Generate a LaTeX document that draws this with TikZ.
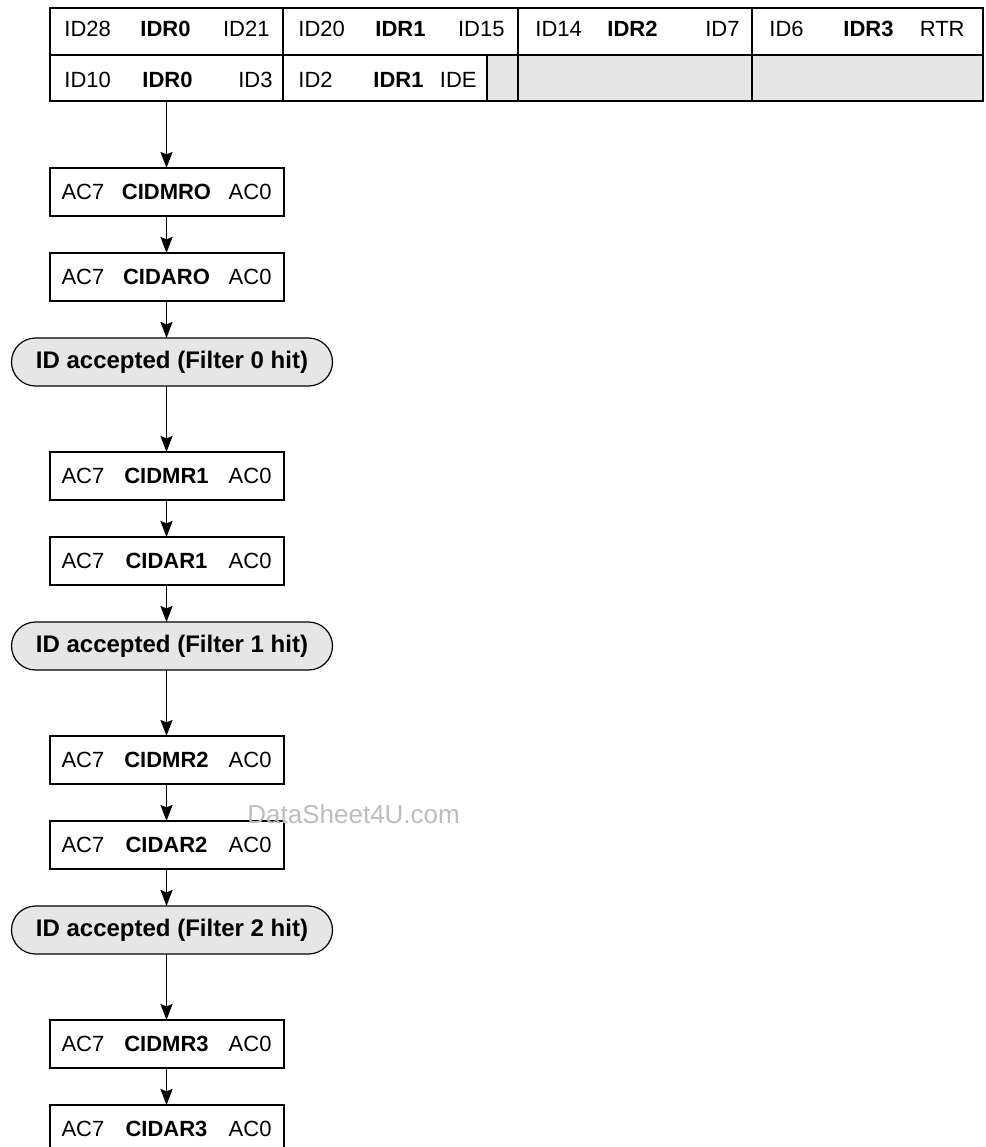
\documentclass[tikz,border=0pt]{standalone}
\usepackage{fontspec}
\setmainfont{Liberation Sans}
\usetikzlibrary{arrows.meta,positioning}
\definecolor{cellgray}{HTML}{E6E6E6}
\definecolor{markgray}{HTML}{BDBDBD}
\tikzset{
  cell/.style={draw, line width=1pt, inner sep=0pt, outer sep=0pt, anchor=north west, minimum height=23.25pt},
  graycell/.style={cell, fill=cellgray},
  lbl/.style={inner sep=0pt, font=\fontsize{11}{13}\selectfont},
  regbox/.style={draw, line width=1pt, inner sep=0pt, outer sep=0pt, minimum width=117pt, minimum height=24pt, text width=105pt, font=\fontsize{11}{13}\selectfont},
  hitbox/.style={draw, line width=0.6pt, fill=cellgray, rounded corners=12pt, inner sep=0pt, outer sep=0pt, minimum width=160.5pt, minimum height=24pt, font=\fontsize{12}{14}\selectfont\bfseries},
  link/.style={-{Stealth[length=8pt,width=6pt,inset=1.2pt]}, line width=0.9pt},
  markstyle/.style={inner sep=0pt, text=markgray, font=\fontsize{13}{15}\selectfont}
}
\begin{document}
\begin{tikzpicture}[x=0.5pt, y=-0.5pt, node distance=18.5pt]
  \useasboundingbox (0,0) rectangle (986,1147);
  % identifier register table
  \node[cell, minimum width=116.5pt] (r1c1) at (50,8) {};
  \node[cell, minimum width=117.5pt] (r1c2) at (283,8) {};
  \node[cell, minimum width=117pt] (r1c3) at (518,8) {};
  \node[cell, minimum width=115.5pt] (r1c4) at (752,8) {};
  \node[cell, minimum width=116.5pt] (r2c1) at (50,54.5) {};
  \node[cell, minimum width=102pt] (r2c2) at (283,54.5) {};
  \node[graycell, minimum width=15.5pt] (r2c3) at (487,54.5) {};
  \node[graycell, minimum width=117pt] (r2c4) at (518,54.5) {};
  \node[graycell, minimum width=115.5pt] (r2c5) at (752,54.5) {};
  \foreach \x/\y/\a/\t [count=\i] in {
      64/36/base west/ID28, 140/36/base west/\textbf{IDR0}, 270/36/base east/ID21,
      298/36/base west/ID20, 375/36/base west/\textbf{IDR1}, 505/36/base east/ID15,
      535/36/base west/ID14, 607/36/base west/\textbf{IDR2}, 740/36/base east/ID7,
      769/36/base west/ID6, 843/36/base west/\textbf{IDR3}, 965/36/base east/RTR,
      64/87/base west/ID10, 142/87/base west/\textbf{IDR0}, 273/87/base east/ID3,
      298/87/base west/ID2, 373/87/base west/\textbf{IDR1}, 477/87/base east/IDE}
    \node[lbl, anchor=\a] (lbl\i) at (\x,\y) {\t};
  % filter chain
  \node[regbox, below=33.5pt of r2c1] (mr0) {AC7\hfill\textbf{CIDMRO}\hfill AC0};
  \node[regbox, below=of mr0] (ar0) {AC7\hfill\textbf{CIDARO}\hfill AC0};
  \node[hitbox, below=of ar0, xshift=2.75pt] (hit0) {ID accepted (Filter 0 hit)};
  \node[regbox, below=33pt of hit0, xshift=-2.75pt] (mr1) {AC7\hfill\textbf{CIDMR1}\hfill AC0};
  \node[regbox, below=of mr1] (ar1) {AC7\hfill\textbf{CIDAR1}\hfill AC0};
  \node[hitbox, below=of ar1, xshift=2.75pt] (hit1) {ID accepted (Filter 1 hit)};
  \node[regbox, below=33pt of hit1, xshift=-2.75pt] (mr2) {AC7\hfill\textbf{CIDMR2}\hfill AC0};
  \node[regbox, below=of mr2] (ar2) {AC7\hfill\textbf{CIDAR2}\hfill AC0};
  \node[hitbox, below=of ar2, xshift=2.75pt] (hit2) {ID accepted (Filter 2 hit)};
  \node[regbox, below=33pt of hit2, xshift=-2.75pt] (mr3) {AC7\hfill\textbf{CIDMR3}\hfill AC0};
  \node[regbox, below=of mr3] (ar3) {AC7\hfill\textbf{CIDAR3}\hfill AC0};
  \draw[link] (r2c1.south) -- (mr0);
  \draw[link] (mr0) -- (ar0);
  \draw[link] (ar0) -- (ar0.south |- hit0.north);
  \draw[link] (hit0.south -| mr1) -- (mr1);
  \draw[link] (mr1) -- (ar1);
  \draw[link] (ar1) -- (ar1.south |- hit1.north);
  \draw[link] (hit1.south -| mr2) -- (mr2);
  \draw[link] (mr2) -- (ar2);
  \draw[link] (ar2) -- (ar2.south |- hit2.north);
  \draw[link] (hit2.south -| mr3) -- (mr3);
  \draw[link] (mr3) -- (ar3);
  % watermark
  \node[markstyle, anchor=base west] (wm) at (247,823) {DataSheet4U.com};
\end{tikzpicture}
\end{document}
